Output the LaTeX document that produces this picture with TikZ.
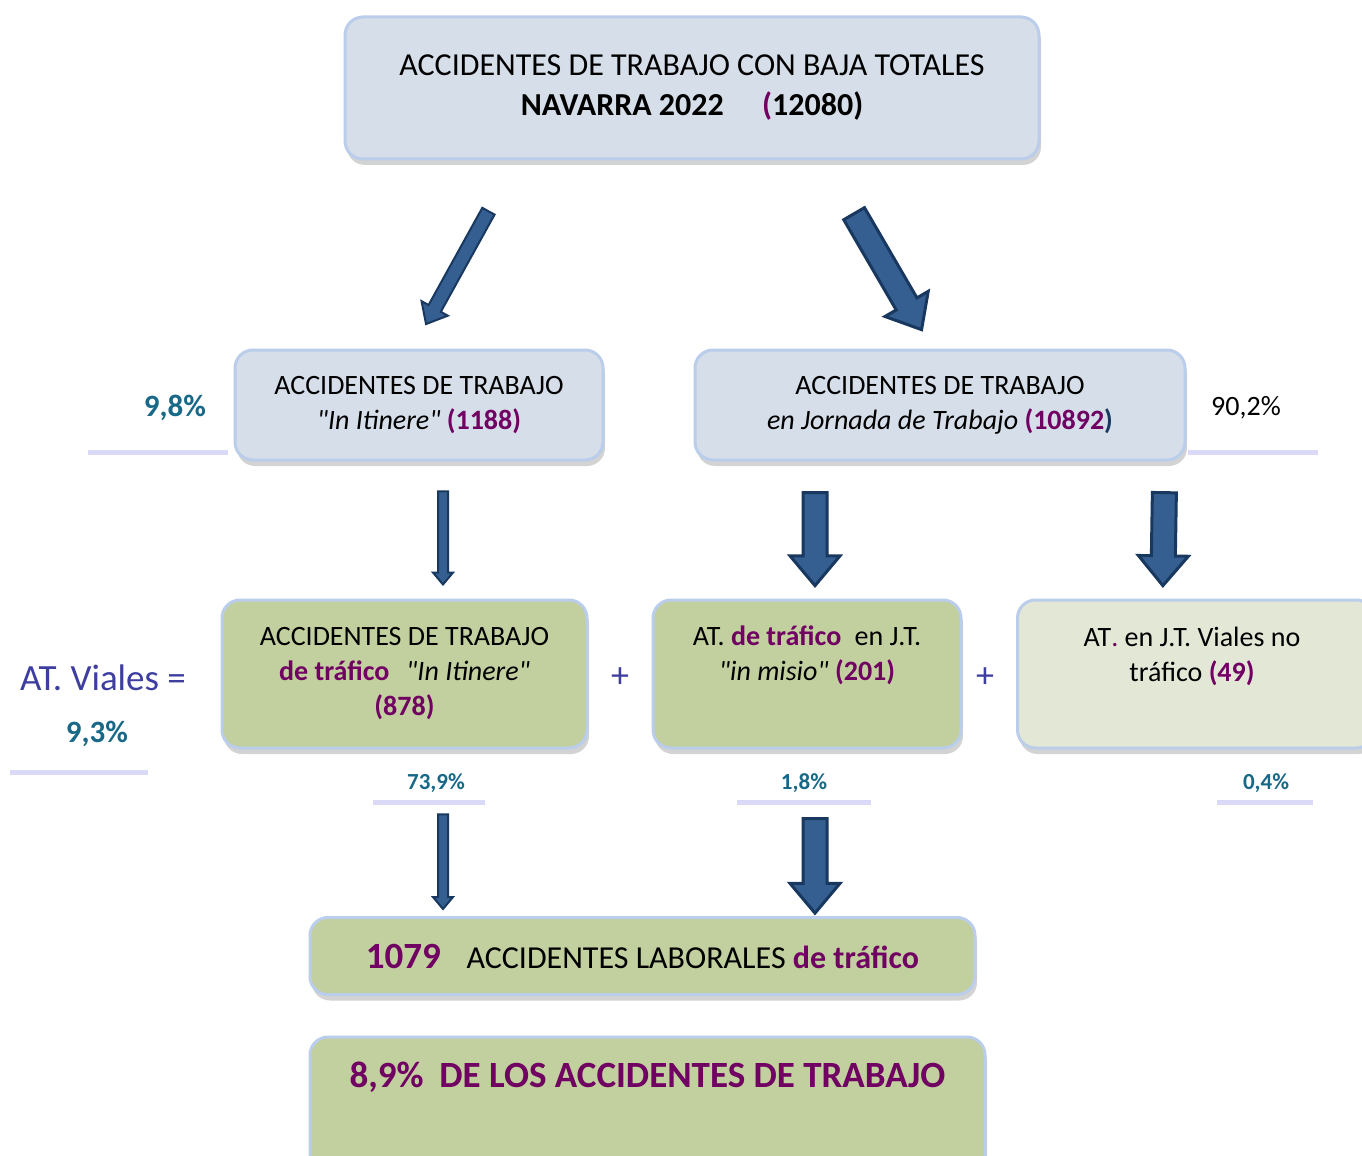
\documentclass[tikz,border=0pt]{standalone}
\usepackage{fontspec}
\setmainfont{Carlito}
\usetikzlibrary{calc,positioning,shapes.arrows,shadows}

\definecolor{boxblue}{RGB}{214,222,233}
\definecolor{rimblue}{RGB}{186,205,234}
\definecolor{green1}{RGB}{194,207,158}
\definecolor{green2}{RGB}{227,231,214}
\definecolor{purple1}{RGB}{112,0,98}
\definecolor{teal1}{RGB}{24,104,136}
\definecolor{violet1}{RGB}{62,62,160}
\definecolor{arrowfill}{RGB}{54,95,145}
\definecolor{arrowrim}{RGB}{24,56,96}
\definecolor{lavender1}{RGB}{218,218,248}

\tikzstyle{block} = [draw=rimblue, line width=1.5pt, rounded corners=9pt, fill=boxblue, align=center, drop shadow={shadow xshift=1pt, shadow yshift=-3pt, opacity=.35}]
\tikzstyle{greenblock} = [block, fill=green1]
\tikzstyle{pctbox} = [fill=white, inner sep=0pt, drop shadow={shadow xshift=0pt, shadow yshift=-2.5pt, fill=lavender1, opacity=1}]
\tikzstyle{pcttext} = [teal1, font=\bfseries\fontsize{15.5}{18}\selectfont]
\tikzstyle{smallpct} = [teal1, font=\bfseries\fontsize{11.5}{14}\selectfont]
\tikzstyle{thinarrow} = [single arrow, draw=arrowrim, fill=arrowfill, line width=1pt, inner xsep=0pt, inner ysep=3pt, single arrow head extend=4pt, single arrow tip angle=80]
\tikzstyle{slimarrow} = [thinarrow, inner ysep=2pt, single arrow head extend=2.5pt]
\tikzstyle{fatarrow} = [thinarrow, line width=1.5pt, inner ysep=5.25pt, single arrow head extend=6.5pt]

% straight quotes
\newcommand{\sq}{\textquotedbl}

% block arrow between two named points
\newcommand{\blockarrow}[3]{%
  \path let \p1=($#3-#2$), \n1={atan2(\y1,\x1)}, \n2={veclen(\x1,\y1)} in
    node[#1, rotate=\n1, minimum height=\n2] at ($#2!0.5!#3$) {};}

\begin{document}
\begin{tikzpicture}[x=0.5pt, y=-0.5pt, font=\fontsize{14}{17.5}\selectfont]
	\useasboundingbox (0,0) rectangle (1362,1156);

	\node [block, minimum width=347pt, minimum height=71pt, font=\fontsize{16}{20}\selectfont] (total) at (692,88) {ACCIDENTES DE TRABAJO CON BAJA TOTALES\\ \textbf{NAVARRA 2022}\hspace{1.2em}\textbf{\textcolor{purple1}{(}12080)}};

	% second row
	\node [block, minimum width=184pt, minimum height=55pt] (itinere) at (419,405) {ACCIDENTES DE TRABAJO\\ \textit{\sq In Itinere\sq} \textbf{\textcolor{purple1}{(1188)}}};
	\node [block, minimum width=245pt, minimum height=55pt] (jornada) at (940,405) {ACCIDENTES DE TRABAJO\\ \textit{en Jornada de Trabajo} \textbf{\textcolor{purple1}{(10892}\textcolor{arrowrim}{)}}};
	\node [pctbox, minimum width=70pt, minimum height=33.5pt] (p98) at (158,416) {};
	\node [pcttext] (p98text) at (175,408) {9,8\%};
	\node [pctbox, minimum width=65pt, minimum height=33.5pt] (p902) at (1253,416) {};
	\node (p902text) at (1246,408) {90,2\%};

	% third row
	\node [greenblock, minimum width=182.5pt, minimum height=74pt] (viales) at (404.5,674) {ACCIDENTES DE TRABAJO\\ \textbf{\textcolor{purple1}{de tráfico}}\hspace{0.6em}\textit{\sq In Itinere\sq}\\ \textbf{\textcolor{purple1}{(878)}}};
	\node [greenblock, minimum width=154pt, minimum height=74pt] (mision) at (807,674) {};
	\node [below=10pt of mision.north, align=center] (misiontext) {AT. \textbf{\textcolor{purple1}{de tráfico}}\hspace{0.25em} en J.T.\\ \textit{\sq in misio\sq} \textbf{\textcolor{purple1}{(201)}}};
	\node [greenblock, fill=green2, minimum width=178.5pt, minimum height=74pt] (notrafico) at (1196,674) {};
	\node [below=10.5pt of notrafico.north, align=center, xshift=-2pt] (notraficotext) {AT\textcolor{purple1}{.} en J.T. Viales no\\ tráfico \textbf{\textcolor{purple1}{(49)}}};

	\node [violet1, font=\fontsize{18}{20}\selectfont] (plus1) at (620,678) {+};
	\node [violet1, font=\fontsize{18}{20}\selectfont] (plus2) at (985,678) {+};
	\node [violet1, font=\fontsize{18.5}{22}\selectfont] (vialestext) at (103,678) {AT. Viales =};
	\node [pctbox, minimum width=69pt, minimum height=31pt] (p93) at (79,739) {};
	\node [pcttext] (p93text) at (97,734) {9,3\%};

	\node [pctbox, minimum width=56pt, minimum height=20pt] (p739) at (429,780) {};
	\node [smallpct] (p739text) at (436,783) {73,9\%};
	\node [pctbox, minimum width=67pt, minimum height=20pt] (p18) at (804,780) {};
	\node [smallpct] (p18text) at (804,783) {1,8\%};
	\node [pctbox, minimum width=48pt, minimum height=20pt] (p04) at (1265,780) {};
	\node [smallpct] (p04text) at (1266,783) {0,4\%};

	% bottom
	\node [greenblock, minimum width=332.5pt, minimum height=38.5pt, font=\fontsize{16}{20}\selectfont] (sumtotal) at (642.5,956) {\textbf{\textcolor{purple1}{\fontsize{18.5}{20}\selectfont 1079}}\hspace{0.8em}ACCIDENTES LABORALES \textbf{\textcolor{purple1}{de tráfico}}};
	\node [greenblock, minimum width=337.5pt, minimum height=75pt] (ratio) at (647.5,1112) {};
	\node [below=9.5pt of ratio.north, purple1, font=\bfseries\fontsize{18.5}{22}\selectfont] (ratiotext) {8,9\%\hspace{0.2em} DE LOS ACCIDENTES DE TRABAJO};

	% arrows
	\coordinate (a1s) at ($(total.south west)+(147,47)$);
	\coordinate (a1e) at ($(itinere.north)+(9,-28)$);
	\coordinate (a2s) at ($(total.south east)+(-190,47)$);
	\coordinate (a2e) at ($(jornada.north)+(-22,-25)$);
	\coordinate (a3s) at ($(itinere.south)+(24,27)$);
	\coordinate (a3e) at ($(viales.north)+(38.5,-17)$);
	\coordinate (a4s) at ($(jornada.south)+(-125,24)$);
	\coordinate (a4e) at ($(mision.north)+(8,-20)$);
	\coordinate (a5s) at ($(jornada.south east)+(-22,24)$);
	\coordinate (a5e) at ($(notrafico.north)+(-33,-20)$);
	\coordinate (a6s) at ($(viales.south)+(38.5,62)$);
	\coordinate (a6e) at ($(sumtotal.north)+(-199.5,-10)$);
	\coordinate (a7s) at ($(mision.south)+(8,62)$);
	\coordinate (a7e) at ($(sumtotal.north)+(172.5,-10)$);

	\blockarrow{thinarrow}{(a1s)}{(a1e)}
	\blockarrow{fatarrow}{(a2s)}{(a2e)}
	\blockarrow{slimarrow}{(a3s)}{(a3e)}
	\blockarrow{fatarrow}{(a4s)}{(a4e)}
	\blockarrow{fatarrow}{(a5s)}{(a5e)}
	\blockarrow{slimarrow}{(a6s)}{(a6e)}
	\blockarrow{fatarrow}{(a7s)}{(a7e)}
\end{tikzpicture}
\end{document}
